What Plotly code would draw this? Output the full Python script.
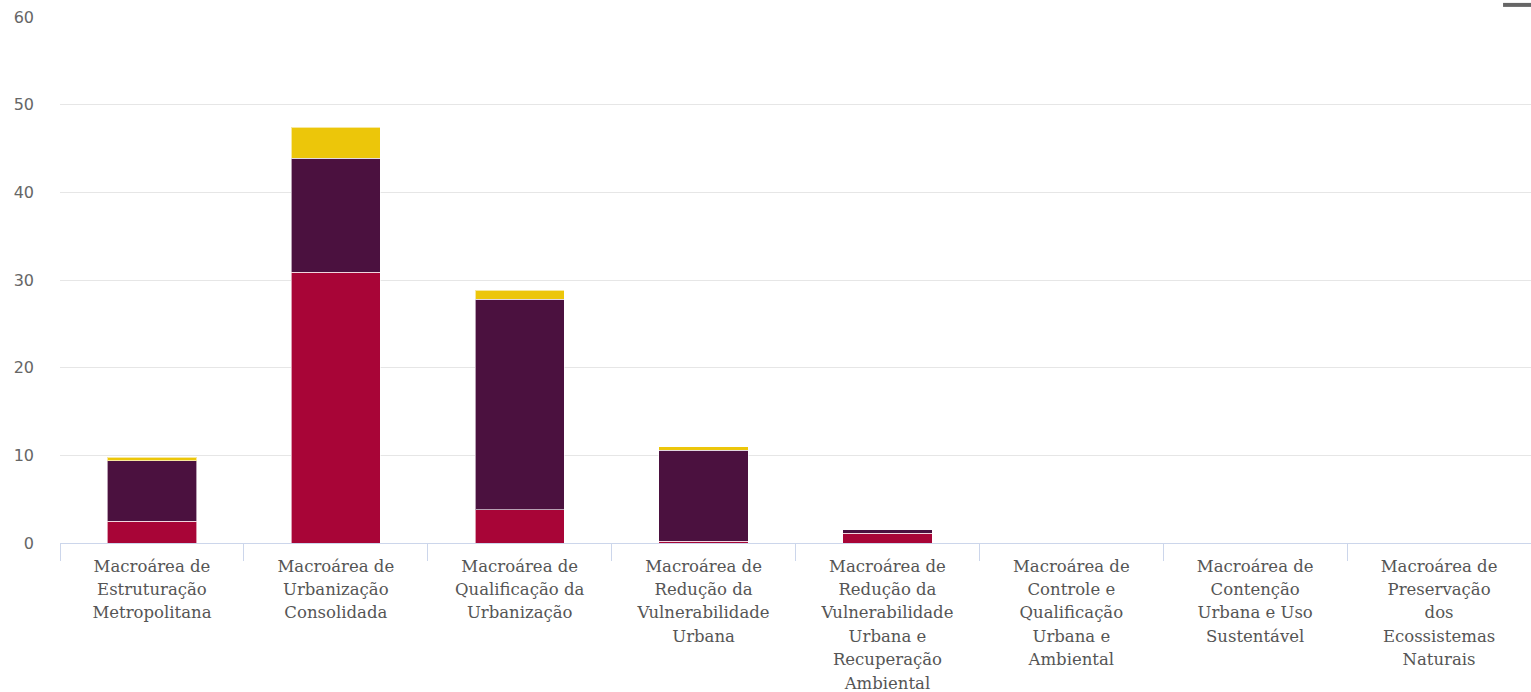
import plotly.graph_objects as go

categories = [
    "Macroárea de<br>Estruturação<br>Metropolitana",
    "Macroárea de<br>Urbanização<br>Consolidada",
    "Macroárea de<br>Qualificação da<br>Urbanização",
    "Macroárea de<br>Redução da<br>Vulnerabilidade<br>Urbana",
    "Macroárea de<br>Redução da<br>Vulnerabilidade<br>Urbana e<br>Recuperação<br>Ambiental",
    "Macroárea de<br>Controle e<br>Qualificação<br>Urbana e<br>Ambiental",
    "Macroárea de<br>Contenção<br>Urbana e Uso<br>Sustentável",
    "Macroárea de<br>Preservação<br>dos<br>Ecossistemas<br>Naturais",
]
series_red = [2.5, 30.9, 3.8, 0.2, 1.1, 0, 0, 0]
series_purple = [6.9, 13.0, 24.0, 10.4, 0.4, 0, 0, 0]
series_yellow = [0.4, 3.5, 1.05, 0.4, 0, 0, 0, 0]
y_ticks = [0, 10, 20, 30, 40, 50, 60]

colors = ["#a80537", "#4b113f", "#ecc60a"]
names = ["Série 1", "Série 2", "Série 3"]

tick_text = ['<span style="font-size:16.5px">' + c + "</span>" for c in categories]

fig = go.Figure()
for vals, col, nm in zip([series_red, series_purple, series_yellow], colors, names):
    fig.add_trace(go.Bar(
        x=categories, y=vals, name=nm,
        marker=dict(color=col, line=dict(color="rgba(255,255,255,0.6)", width=1)),
    ))

fig.update_layout(
    barmode="stack",
    bargap=0.515,
    width=1531, height=692,
    margin=dict(l=60, r=0, t=17, b=148.5),
    plot_bgcolor="white",
    paper_bgcolor="white",
    showlegend=False,
    font=dict(family="DejaVu Sans, sans-serif", color="#666666"),
)
fig.update_xaxes(
    type="category",
    tickmode="array", tickvals=categories, ticktext=tick_text,
    tickson="boundaries", ticks="outside", ticklen=17, tickcolor="#ccd6eb", tickwidth=1,
    showline=True, linecolor="#ccd6eb", linewidth=1,
    showgrid=False,
    automargin=False,
    tickfont=dict(family="DejaVu Serif", size=18, color="#555555"),
    tickangle=0,
    ticklabelstandoff=6,
)
fig.update_yaxes(
    range=[0, 60], tickvals=y_ticks,
    showgrid=True, gridcolor="#e6e6e6", gridwidth=1,
    zeroline=False,
    automargin=False,
    tickfont=dict(family="DejaVu Sans, sans-serif", size=16, color="#666666"),
    ticklabelstandoff=25,
)
fig.add_shape(type="line", xref="paper", yref="paper",
              x0=0.981, x1=1.0, y0=1.023, y1=1.023,
              line=dict(color="#666666", width=4))

fig.write_html("out.html", config={"displayModeBar": False},
               post_script="document.body.style.margin='0';")
